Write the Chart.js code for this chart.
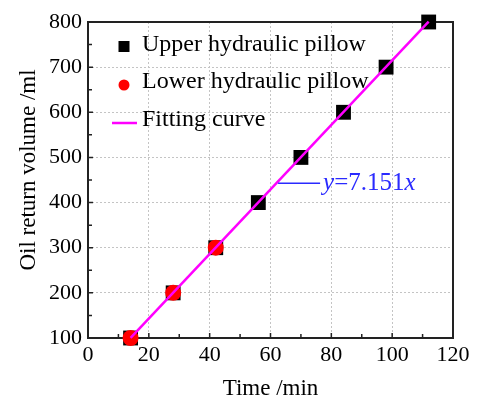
<!DOCTYPE html>
<html>
<head>
<meta charset="utf-8">
<script src="https://cdn.jsdelivr.net/npm/chart.js@4/dist/chart.umd.min.js"></script>
<style>
html,body{margin:0;padding:0;background:#fff;}
#wrap{width:485px;height:400px;position:relative;}
</style>
</head>
<body>
<div id="wrap"><canvas id="c" width="485" height="400"></canvas></div>
<script>
// ---- data ----
const upperTime = [14, 28, 42, 56, 70, 84, 98, 112];
const upperVolume = [100, 200, 300, 400, 500, 600, 700, 800];
const lowerTime = [14, 28, 42];
const lowerVolume = [100, 200, 300];
const fitTime = [14, 112];
const fitVolume = [100.1, 800.9];
const fitLabel = ['y', '=7.151', 'x'];
const seriesNames = ['Upper hydraulic pillow', 'Lower hydraulic pillow', 'Fitting curve'];
const xTitle = 'Time /min';
const yTitle = 'Oil return volume /ml';
const xTicks = [0, 20, 40, 60, 80, 100, 120];
const yTicks = [100, 200, 300, 400, 500, 600, 700, 800];

const SERIF = '"Liberation Serif", "Times New Roman", serif';
const pts = (xs, ys) => xs.map((x, i) => ({x: x, y: ys[i]}));

const framePlugin = {
  id: 'frame',
  beforeDatasetsDraw(chart) {
    const {ctx, chartArea: a, scales} = chart;
    ctx.save();
    ctx.strokeStyle = '#222';
    ctx.lineWidth = 1.5;
    const xs = scales.x, ys = scales.y;
    ctx.beginPath();
    for (let v = 0; v <= 120; v += 10) {
      const p = xs.getPixelForValue(v);
      const len = (v % 20 === 0) ? 5 : 4;
      ctx.moveTo(p, a.bottom); ctx.lineTo(p, a.bottom - len);
    }
    for (let v = 100; v <= 800; v += 50) {
      const p = ys.getPixelForValue(v);
      const len = (v % 100 === 0) ? 5 : 4;
      ctx.moveTo(a.left, p); ctx.lineTo(a.left + len, p);
    }
    ctx.stroke();
    ctx.lineWidth = 2;
    ctx.strokeRect(a.left, a.top, a.right - a.left, a.bottom - a.top);
    ctx.restore();
  },
  afterDraw(chart) {
    const {ctx, scales} = chart;
    ctx.save();
    // y axis title
    ctx.save();
    ctx.translate(29, 170);
    ctx.rotate(-Math.PI / 2);
    ctx.font = '23px ' + SERIF;
    ctx.fillStyle = '#000';
    ctx.textAlign = 'center';
    ctx.textBaseline = 'middle';
    ctx.fillText(yTitle, 0, 0);
    ctx.restore();
    // annotation
    const ax = scales.x.getPixelForValue(62.5);
    const ay = scales.y.getPixelForValue(443);
    ctx.strokeStyle = '#2a2aff';
    ctx.lineWidth = 1.5;
    ctx.beginPath();
    ctx.moveTo(ax, ay); ctx.lineTo(ax + 42, ay);
    ctx.stroke();
    ctx.fillStyle = '#2a2aff';
    ctx.textBaseline = 'middle';
    let tx = ax + 45;
    fitLabel.forEach((s, i) => {
      ctx.font = (i !== 1 ? 'italic ' : '') + '25px ' + SERIF;
      ctx.fillText(s, tx, ay);
      tx += ctx.measureText(s).width;
    });
    // legend
    const lx = 124, rows = [45, 82, 120];
    ctx.fillStyle = '#000';
    ctx.fillRect(lx - 5.5, rows[0] - 4, 11, 11);
    ctx.fillStyle = '#ff0000';
    ctx.beginPath(); ctx.arc(lx, rows[1] + 3, 5.5, 0, Math.PI * 2); ctx.fill();
    ctx.strokeStyle = '#ff00ff';
    ctx.lineWidth = 2.5;
    ctx.beginPath(); ctx.moveTo(lx - 12, rows[2] + 3); ctx.lineTo(lx + 13, rows[2] + 3); ctx.stroke();
    ctx.font = '24px ' + SERIF;
    ctx.fillStyle = '#000';
    ctx.textBaseline = 'middle';
    seriesNames.forEach((n, i) => ctx.fillText(n, 142, rows[i]));
    ctx.restore();
  }
};

new Chart(document.getElementById('c'), {
  type: 'scatter',
  data: {
    datasets: [
      { label: seriesNames[2], type: 'line', data: pts(fitTime, fitVolume), borderColor: '#ff00ff', borderWidth: 2.5, pointRadius: 0, fill: false, order: 0, clip: false },
      { label: seriesNames[1], data: pts(lowerTime, lowerVolume), pointStyle: 'circle', pointRadius: 8, backgroundColor: '#ff0000', borderColor: '#ff0000', borderWidth: 0, order: 1, clip: false },
      { label: seriesNames[0], data: pts(upperTime, upperVolume), pointStyle: 'rect', pointRadius: 10.5, backgroundColor: '#000', borderColor: '#000', borderWidth: 0, order: 2, clip: false }
    ]
  },
  options: {
    responsive: false,
    animation: false,
    events: [],
    layout: { padding: { top: 22, right: 32, left: 0, bottom: 0 } },
    plugins: { legend: { display: false }, tooltip: { enabled: false } },
    scales: {
      x: {
        type: 'linear', min: 0, max: 120,
        afterFit: s => { s.height = 62; },
        afterBuildTicks: s => { s.ticks = xTicks.map(v => ({value: v})); },
        border: { display: false, dash: [2, 2] },
        grid: { drawTicks: false, color: c => (c.tick && (c.tick.value === 0 || c.tick.value === 120)) ? 'rgba(0,0,0,0)' : '#c4c4c4', lineWidth: 1 },
        ticks: { color: '#000', font: { family: SERIF, size: 22 }, padding: 4, maxRotation: 0 },
        title: { display: true, text: xTitle, color: '#000', font: { family: SERIF, size: 23, lineHeight: 1 }, padding: { top: 0, bottom: 0 } }
      },
      y: {
        type: 'linear', min: 100, max: 800,
        afterFit: s => { s.width = 88; },
        afterBuildTicks: s => { s.ticks = yTicks.map(v => ({value: v})); },
        border: { display: false, dash: [2, 2] },
        grid: { drawTicks: false, color: c => (c.tick && (c.tick.value === 100 || c.tick.value === 800)) ? 'rgba(0,0,0,0)' : '#c4c4c4', lineWidth: 1 },
        ticks: { color: '#000', font: { family: SERIF, size: 22 }, padding: 6 },
        title: { display: false }
      }
    }
  },
  plugins: [framePlugin]
});
</script>
</body>
</html>
